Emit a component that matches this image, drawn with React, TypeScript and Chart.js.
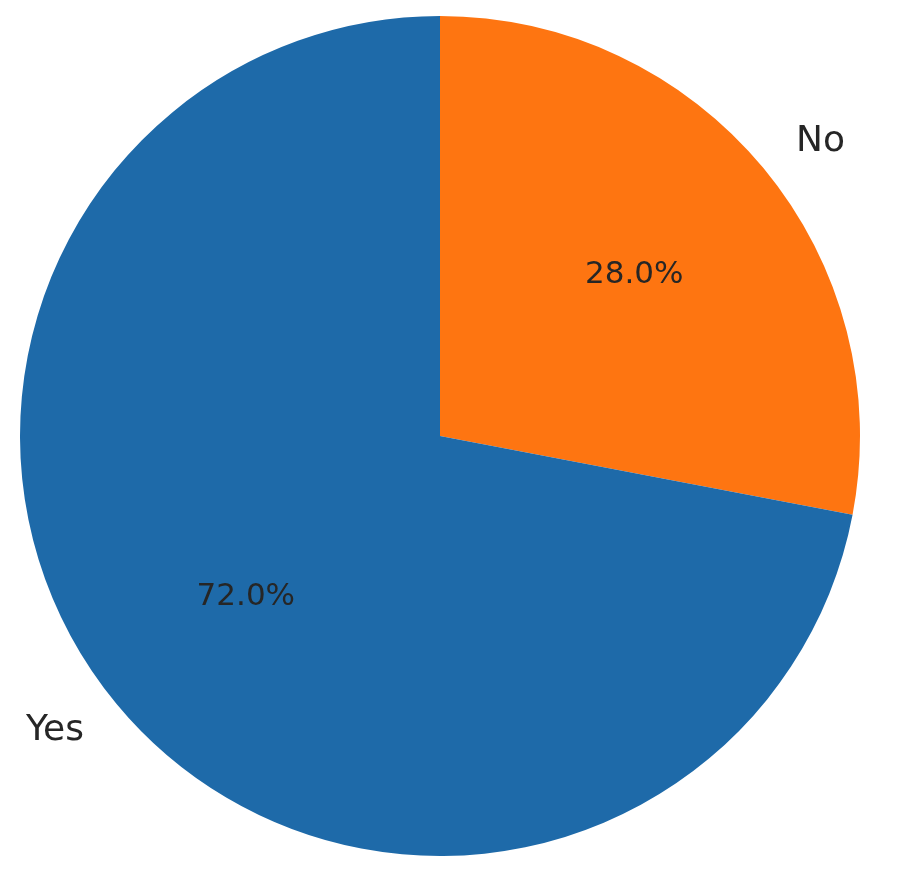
import React, { useEffect, useRef } from "react";
import { Chart, registerables } from "chart.js";

Chart.register(...registerables);

const categories = ["No", "Yes"];
const values = [28, 72];
const colors = ["#fe7511", "#1e6aa9"];

const labelPlugin = {
  id: "pieLabels",
  afterDatasetsDraw(chart: any) {
    const ctx = chart.ctx;
    const meta = chart.getDatasetMeta(0);
    const total = values.reduce((a, b) => a + b, 0);
    ctx.save();
    ctx.fillStyle = "#262626";
    meta.data.forEach((arc: any, i: number) => {
      const p = arc.getProps(["x", "y", "startAngle", "endAngle", "outerRadius"], true);
      const mid = (p.startAngle + p.endAngle) / 2;
      const cx = Math.cos(mid);
      const cy = Math.sin(mid);
      // percentage at 0.6 r
      ctx.font = "31px 'DejaVu Sans'";
      ctx.textAlign = "center";
      ctx.textBaseline = "middle";
      const pct = ((values[i] / total) * 100).toFixed(1) + "%";
      ctx.fillText(pct, p.x + cx * p.outerRadius * 0.6, p.y + cy * p.outerRadius * 0.6);
      // label at 1.1 r
      ctx.font = "36px 'DejaVu Sans'";
      ctx.textAlign = cx >= 0 ? "left" : "right";
      ctx.fillText(categories[i], p.x + cx * p.outerRadius * 1.1, p.y + cy * p.outerRadius * 1.1);
    });
    ctx.restore();
  },
};

export default function App() {
  const ref = useRef<HTMLCanvasElement>(null);
  useEffect(() => {
    if (!ref.current) return;
    const chart = new Chart(ref.current, {
      type: "pie",
      data: {
        labels: categories,
        datasets: [
          {
            data: values,
            backgroundColor: colors,
            borderWidth: 0,
          },
        ],
      },
      options: {
        animation: false,
        responsive: false,
        devicePixelRatio: 1,
        layout: { padding: { left: 12, right: 12, top: 8, bottom: 8 } },
        plugins: {
          legend: { display: false },
          tooltip: { enabled: false },
        },
      },
      plugins: [labelPlugin],
    });
    return () => chart.destroy();
  }, []);
  return <canvas ref={ref} width={864} height={856} style={{ display: "block" }} />;
}
